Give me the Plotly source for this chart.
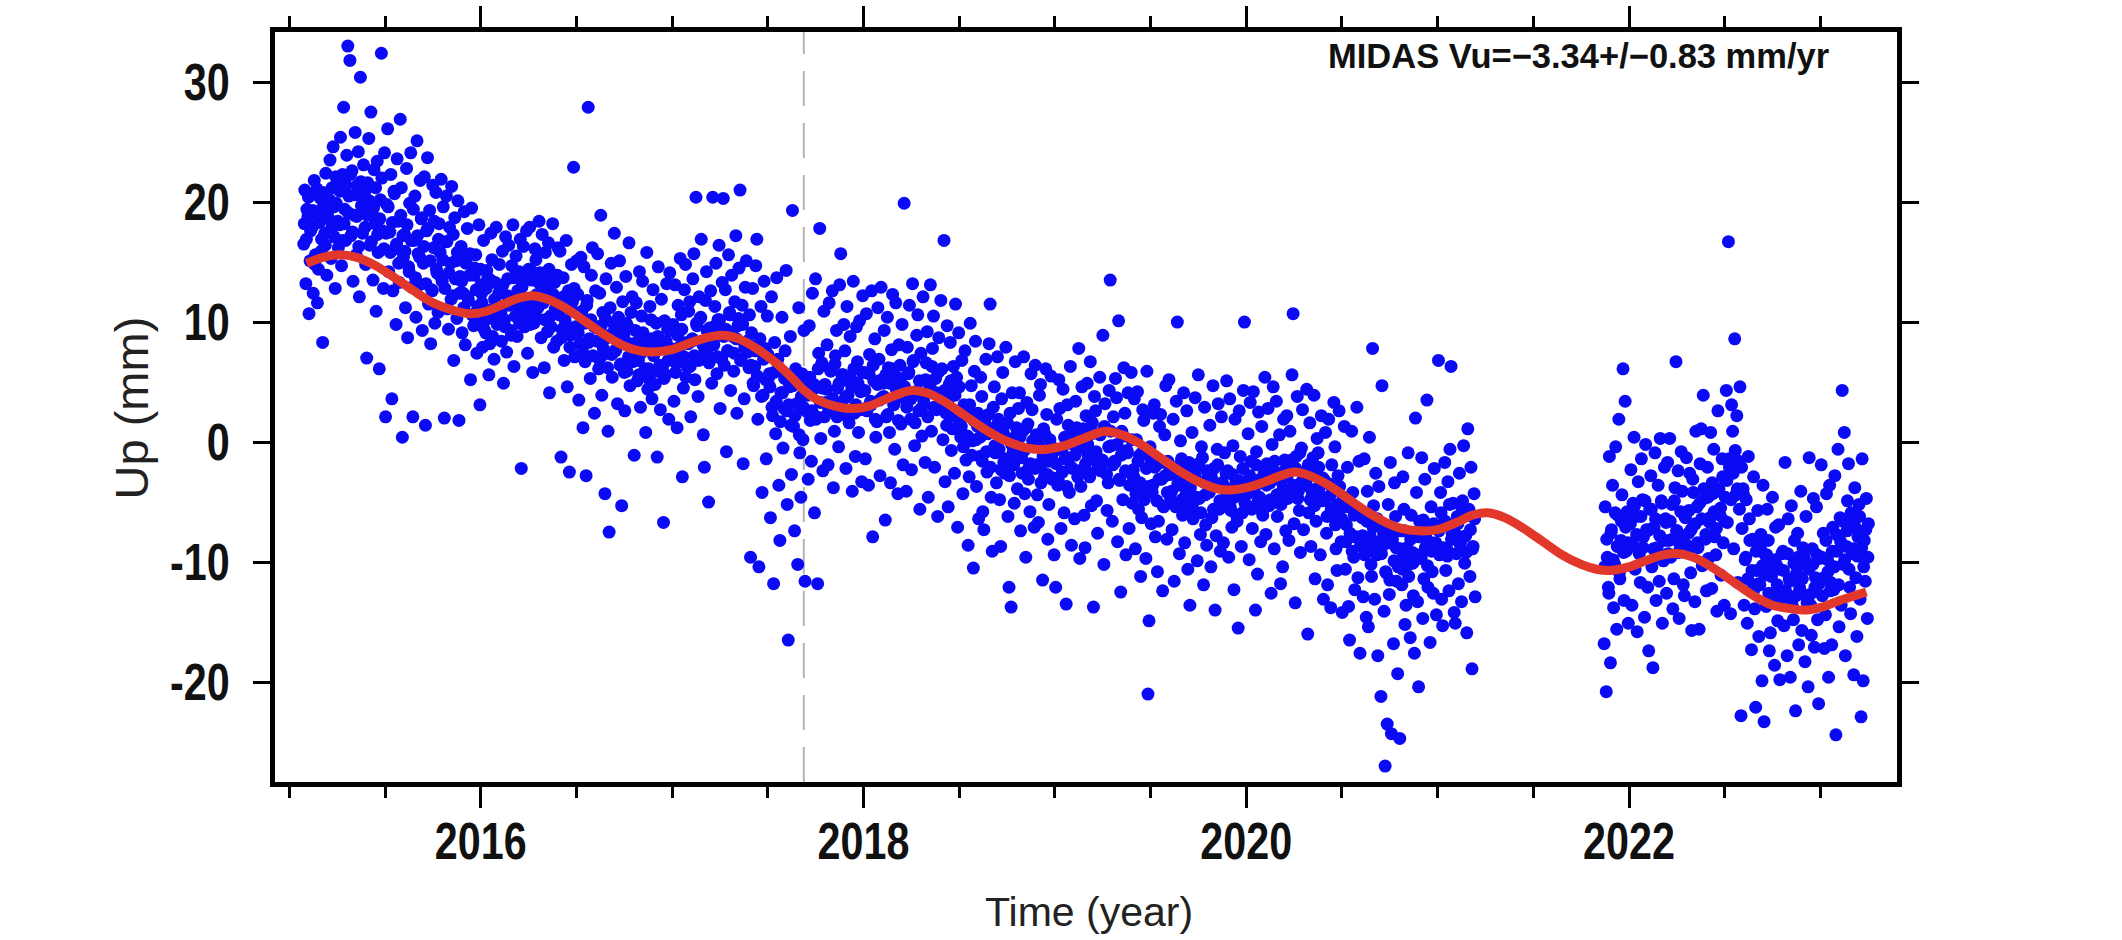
import plotly.graph_objects as go

# ---------------- data ----------------
# GNSS "Up" observations, grouped by year.
# Each tuple: (day of year, Up on that day, on the next day, two days later) in mm
obs_2015 = [(28,16.5,18.2,21.0),(32,13.2,16.9,19.4),(36,18.8,20.4,10.7),(40,15.1,17.6,20.6),(44,17.9,19.3,12.4),(48,21.8,14.8,15.6),(52,19.2,21.1,11.6),(56,14.4,18.7,18.3),(60,20.3,15.9,16.9),(64,8.3,20.8,19.8),(68,17.4,16.4,22.4),(72,13.9,19.1,20.1),
    (76,18.6,20.2,23.5),(80,15.3,17.8,21.2),(84,24.6,19.6,17.1),(88,12.8,22.1,19.9),(92,21.7,18.4,16.2),(96,18.1,20.9,25.4),(100,14.7,16.8,22.3),(104,27.9,18.2,19.4),(108,16.8,21.4,23.9),
    (112,33.0,19.1,20.5),(116,31.8,22.3,17.2),(120,22.6,17.5,13.4),(124,18.9,20.6,25.8),(128,15.6,18.8,21.4),(132,24.2,16.3,12.1),(136,30.4,21.7,19.7),(140,17.4,19.9,23.1),(144,20.8,17.9,14.8),
    (148,7.0,18.9,21.6),(152,25.3,20.1,16.4),(156,27.5,16.7,19.1),(160,13.5,19.5,22.7),(164,18.2,21.2,10.9),(168,23.4,17.3,15.8),(172,6.1,18.6,20.2),(176,32.4,22.0,17.6),(180,12.8,16.1,24.1),
    (184,2.1,17.4,19.8),(188,26.1,19.6,14.2),(192,17.5,15.8,22.3),(196,3.6,18.3,12.6),(200,20.9,20.7,16.1),(204,9.8,16.5,23.6),(208,18.4,14.9,13.3),(212,26.9,18.9,21.2),(216,0.4,17.2,15.4),
    (220,17.3,15.9,11.2),(224,22.8,18.1,8.7),(228,14.6,14.2,19.9),(232,24.1,16.8,12.9),(236,2.1,19.4,16.8),(240,20.5,13.7,10.4),(244,25.1,17.2,15.7),(248,13.1,15.4,21.8),(252,18.6,18.7,9.3),
    (256,14.9,16.3,22.1),(260,1.4,13.2,17.6),(264,23.7,17.8,11.5),(268,19.3,15.1,8.2),(272,12.7,12.6,21.4),(276,16.2,18.4,9.9),(280,20.8,14.4,14.1),(284,10.8,16.9,18.2),(288,15.8,13.8,21.9),
    (292,13.4,15.2,19.6),(296,2.0,12.8,16.7),(300,20.5,16.7,11.1),(304,9.4,14.1,17.9),(308,14.9,11.9,21.3),(312,12.2,17.3,6.8),(316,18.7,13.6,15.1),(320,10.3,15.8,20.1),(324,1.8,12.4,13.8),
    (328,16.3,13.4,9.1),(332,12.4,11.2,19.2),(336,8.1,14.9,15.2),(340,17.8,12.1,11.8),(344,13.9,15.7,5.2),(348,19.5,10.6,10.6),(352,9.7,13.9,14.5),(356,15.6,12.7,7.4),(360,11.3,9.8,18.1),(364,3.1,14.4,13.1)]

obs_2016 = [(2,12.4,11.6,7.9),(6,16.8,9.4,10.2),(10,9.1,12.8,14.3),(14,13.7,10.3,5.6),(18,8.2,13.5,17.4),(22,15.2,8.8,11.1),(26,6.9,11.9,13.3),(30,17.9,10.1,9.8),(34,10.6,12.4,14.8),
    (38,12.8,10.8,8.4),(42,15.9,13.1,4.9),(46,10.2,9.6,17.1),(50,7.5,12.2,13.6),(54,16.4,11.4,11.9),(58,9.3,8.9,14.7),(62,18.1,13.7,6.3),(66,12.1,10.5,15.5),(70,8.8,12.6,11.4),(74,14.2,9.9,16.9),
    (78,-2.2,12.9,13.1),(82,16.3,10.7,9.6),(86,11.8,13.8,17.6),(90,7.4,11.5,14.4),(94,17.9,9.8,10.7),(98,13.5,14.2,5.8),(102,9.9,12.1,16.1),(106,15.2,10.4,12.3),(110,11.2,13.3,18.4),
    (114,14.1,11.8,8.7),(118,17.3,13.6,11.6),(122,6.2,10.2,15.8),(126,12.9,12.7,9.2),(130,16.6,14.4,4.1),(134,10.5,9.6,13.8),(138,18.2,12.3,7.9),(142,13.3,11.1,11.1),(146,8.4,13.9,16.2),
    (150,11.5,10.6,15.9),(154,-1.25,8.7,9.4),(158,13.7,12.1,6.8),(162,10.1,9.5,16.8),(166,4.6,11.3,12.6),(170,-2.5,7.9,8.9),(174,14.8,10.9,11.7),(178,22.9,12.8,7.1),(182,9.6,9.2,15.1),
    (186,12.3,9.1,3.5),(190,8.2,10.8,15.4),(194,10.9,7.6,1.2),(198,14.6,9.9,6.7),(202,-2.8,11.4,11.8),(206,27.9,8.3,8.6),(210,5.3,10.2,13.9),(214,16.2,7.2,9.7),(218,2.4,9.6,12.6),
    (222,9.5,8.4,15.7),(226,6.1,6.9,12.4),(230,18.9,9.7,3.9),(234,10.8,7.8,7.3),(238,-4.3,10.3,13.6),(242,8.7,6.2,0.9),(246,-7.5,8.9,11.2),(250,14.9,7.3,5.4),(254,9.9,9.2,17.4),
    (258,7.6,7.7,12.9),(262,3.2,9.4,10.4),(266,15.1,6.4,6.5),(270,-5.3,8.6,11.7),(274,8.9,5.8,2.6),(278,13.8,9.9,5.9),(282,9.6,7.1,16.6),(286,4.7,8.2,10.8),(290,12.1,6.7,7.2),
    (294,-1.1,6.9,9.3),(298,11.6,8.3,5.1),(302,6.8,5.6,14.2),(306,2.9,7.4,10.5),(310,13.4,9.1,7.7),(314,8.4,6.1,0.8),(318,15.8,7.8,4.4),(322,6.1,5.2,11.3),(326,10.2,8.6,3.6),
    (330,12.7,7.2,7.4),(334,4.8,5.9,9.9),(338,-1.25,8.8,14.6),(342,8.1,6.4,2.7),(346,11.9,7.9,6.2),(350,-6.7,5.3,10.1),(354,5.6,8.4,13.2),(358,9.4,6.8,1.9),(362,14.1,9.3,7.8)]

obs_2017 = [(2,9.8,7.6,3.4),(6,13.1,5.8,6.6),(10,1.2,8.9,11.4),(14,7.9,6.7,15.3),(18,10.6,9.4,-2.9),(22,4.5,7.1,12.7),(26,14.8,5.4,8.3),(30,6.2,8.2,10.9),(34,11.7,6.3,2.1),
    (38,8.4,8.6,13.6),(42,15.7,7.2,5.2),(46,20.4,9.9,9.7),(50,3.8,6.8,12.1),(54,10.3,10.4,16.9),(58,6.9,8.1,0.6),(62,-2.1,7.5,11.8),(66,14.2,9.3,7.3),(70,-5.0,6.6,9.5),(74,12.6,8.8,4.9),
    (78,20.4,8.3,8.1),(82,11.3,9.7,14.9),(86,5.7,7.1,10.2),(90,16.4,10.2,2.8),(94,9.1,6.9,13.3),(98,20.3,8.8,6.4),(102,12.7,9.4,-0.8),(106,7.6,7.6,15.6),(110,10.8,10.6,4.3),
    (114,13.9,9.1,8.8),(118,5.9,7.4,11.7),(122,17.2,8.6,2.4),(126,9.7,10.3,14.5),(130,21.0,6.8,6.9),(134,11.4,9.8,-1.8),(138,3.6,7.9,12.9),(142,15.1,8.4,7.5),(146,8.2,6.2,10.6),
    (150,-9.6,6.4,9.1),(154,12.8,4.9,4.7),(158,6.3,7.6,14.7),(162,16.9,5.5,1.9),(166,-10.4,8.1,8.6),(170,11.3,3.8,-4.2),(174,3.9,6.9,13.4),(178,7.8,5.2,-1.4),(182,10.5,7.3,5.3),
    (186,5.7,4.6,-6.3),(190,12.1,2.9,2.2),(194,-11.8,5.8,8.3),(198,0.7,3.4,13.7),(202,6.9,6.2,-3.6),(206,-8.2,1.7,4.1),(210,10.4,4.1,-0.5),(214,2.8,5.3,7.6),(218,14.3,2.6,-5.2),
    (222,-16.5,3.1,4.6),(226,8.8,1.4,-2.7),(230,19.3,4.7,1.3),(234,-7.4,2.2,6.1),(238,3.2,5.3,-10.2),(242,11.2,0.6,-0.9),(246,-4.6,3.8,5.7),(250,0.2,2.9,9.3),(254,-11.6,4.4,2.6),
    (258,5.1,3.9,-3.1),(262,9.7,5.4,1.8),(266,-1.6,2.6,12.4),(270,4.4,4.8,-5.9),(274,13.6,1.9,2.1),(278,-11.8,6.1,7.4),(282,17.8,3.3,0.3),(286,6.6,4.5,-2.4),(290,10.9,2.1,4.8),
    (294,3.3,4.4,8.1),(298,-1.9,2.8,11.6),(302,6.1,5.9,2.7),(306,12.6,3.6,-3.8),(310,0.9,6.5,7.2),(314,9.3,2.1,4.5),(318,-0.4,4.9,13.1),(322,15.7,3.2,5.6),(326,2.3,5.6,9.8),
    (330,7.6,3.7,-2.2),(334,11.3,5.2,3.9),(338,1.6,2.4,8.8),(342,5.2,4.6,-4.1),(346,13.4,6.1,2.4),(350,-1.2,3.1,9.6),(354,6.7,4.9,0.8),(358,10.1,2.7,4.2),(362,-3.3,5.8,12.2)]

obs_2018 = [(2,5.8,4.3,-1.4),(6,10.7,2.6,2.9),(10,-3.6,5.7,7.3),(14,3.4,3.1,12.6),(18,-7.9,6.4,5.1),(22,8.6,1.9,0.4),(26,1.7,4.8,11.2),(30,6.9,3.5,-2.8),(34,12.9,5.2,3.7),
    (38,4.9,3.8,9.3),(42,-6.5,5.6,2.1),(46,10.4,2.3,6.2),(50,0.8,4.9,-3.4),(54,7.7,6.1,12.3),(58,3.1,3.2,-0.6),(62,11.6,4.4,5.4),(66,-4.3,1.8,8.1),(70,6.4,5.3,1.5),(74,9.8,3.9,-1.9),
    (78,19.9,4.6,3.6),(82,-4.1,2.9,7.9),(86,5.7,5.8,11.4),(90,1.9,3.6,-2.3),(94,13.2,6.7,6.8),(98,-0.3,1.6,4.2),(102,8.9,4.2,10.6),(106,2.6,5.1,-5.6),(110,7.4,2.8,0.5),
    (114,12.1,3.5,3.2),(118,-1.7,5.2,6.6),(122,9.2,2.1,-4.6),(126,4.4,4.7,13.1),(130,0.9,6.3,7.8),(134,10.5,2.9,-2.1),(138,5.3,4.1,2.7),(142,-6.2,5.8,8.7),(146,3.9,3.3,11.8),
    (150,6.1,2.8,0.2),(154,16.8,4.3,-3.3),(158,2.4,1.4,9.7),(162,-5.4,3.6,4.8),(166,8.3,5.1,-0.7),(170,1.1,2.2,6.3),(174,-2.6,3.9,11.5),(178,5.4,1.1,-7.1),(182,9.1,4.6,1.8),
    (186,0.4,1.3,6.8),(190,-4.3,-0.4,3.1),(194,7.6,2.6,-1.5),(198,2.2,0.5,-8.6),(202,-2.9,3.1,9.9),(206,4.7,-1.1,0.1),(210,-10.5,1.8,5.9),(214,8.4,0.2,-3.7),(218,1.3,2.4,-6.4),
    (222,-1.2,0.4,5.4),(226,3.8,-1.6,-5.8),(230,-7.3,1.7,1.6),(234,6.9,-0.8,-2.5),(238,0.7,2.3,8.2),(242,11.5,-2.1,-4.6),(246,-9.1,0.9,2.9),(250,4.6,-0.3,-0.9),(254,-3.4,1.4,7.1),
    (258,1.9,-0.6,-4.8),(262,-8.7,-2.3,3.6),(266,5.8,0.8,-1.7),(270,-2.6,-1.4,7.9),(274,0.3,1.6,-6.2),(278,-12.1,-2.8,2.4),(282,-13.75,-0.2,4.1),(286,-0.8,-1.9,-5.1),(290,6.7,0.5,1.2),
    (294,-3.9,-1.3,2.8),(298,4.1,0.4,-7.4),(302,-1.3,-2.6,0.9),(306,7.1,-0.7,-4.3),(310,-9.6,1.2,3.3),(314,1.5,-3.1,-2.1),(318,-5.8,-1.8,5.7),(322,2.7,0.1,-0.4),(326,-7.1,-2.2,6.4),
    (330,0.6,-1.9,-4.4),(334,-6.7,-0.3,3.9),(338,4.8,-3.4,-1.9),(342,-11.5,-1.2,1.1),(346,-2.8,0.6,6.1),(350,2.3,-2.7,-8.1),(354,-5.2,-1.6,0.2),(358,5.5,-0.4,-3.1),(362,-0.9,-3.0,-9.4)]

obs_2019 = [(2,-12.1,-1.8,1.9),(6,-3.6,-3.2,5.2),(10,2.8,-0.6,-7.2),(14,-0.6,-2.5,4.4),(18,-5.9,0.4,-1.4),(22,-13.5,-3.7,3.1),(26,1.4,-1.3,-4.2),(30,6.3,-2.1,-8.6),(34,-2.2,-0.2,0.8),
    (38,-6.4,-1.1,3.4),(42,1.2,0.3,-2.9),(46,7.8,-2.4,-9.7),(50,-3.7,-0.5,4.6),(54,0.5,1.1,-6.1),(58,-8.8,-1.8,2.2),(62,4.9,-0.2,-1.1),(66,-2.6,-2.9,6.7),(70,-5.3,0.7,1.6),(74,-13.75,-1.4,3.8),
    (78,2.6,-0.8,-4.9),(82,-7.6,-2.1,0.7),(86,5.4,0.6,-2.4),(90,-1.8,-1.5,8.9),(94,-10.2,1.3,3.2),(98,1.1,-2.7,-5.7),(102,-3.4,-0.4,4.3),(106,13.5,0.9,-0.3),(110,-6.6,-1.9,2.1),
    (114,-1.6,-1.7,5.3),(118,3.7,-0.2,-8.3),(122,10.1,-3.1,-3.2),(126,-12.5,-1.1,0.9),(130,-4.8,0.5,6.2),(134,2.4,-2.4,-9.4),(138,-0.7,-0.9,4.1),(142,-7.2,-3.6,-2.6),(146,5.8,0.2,-5.1),
    (150,-2.3,-2.9,3.6),(154,-8.9,-4.3,0.2),(158,4.2,-1.6,-5.6),(162,-1.1,-3.4,-11.2),(166,-6.3,-0.9,2.7),(170,1.8,-4.8,-3.8),(174,-9.7,-2.2,5.9),(178,-21.0,-3.7,-14.9),(182,-0.4,-1.4,-6.8),
    (186,-4.2,-3.6,2.4),(190,3.1,-2.1,-7.9),(194,-1.9,-4.9,-10.8),(198,-6.6,-3.1,1.3),(202,2.3,-1.7,-3.1),(206,-12.4,-5.3,-5.4),(210,0.6,-2.8,4.7),(214,-8.1,-4.2,-1.6),(218,5.2,-2.4,-4.5),
    (222,-2.7,-4.1,-7.3),(226,1.9,-2.6,-11.6),(230,-5.2,-5.4,3.4),(234,10.0,-3.5,-3.6),(238,-9.3,-1.9,0.1),(242,-1.4,-4.8,-6.1),(246,4.1,-3.2,-8.4),(250,-4.4,-5.7,2.6),(254,-10.6,-2.3,-1.7),
    (258,-13.6,-3.8,-3.2),(262,0.8,-5.2,-6.4),(266,-5.8,-2.7,3.7),(270,-2.1,-4.6,-9.9),(274,5.6,-1.8,-4.7),(278,-7.7,-5.9,-0.4),(282,-1.3,-3.3,-11.9),(286,2.9,-4.4,-6.9),(290,-8.6,-2.4,-2.6),
    (294,-3.9,-4.2,1.4),(298,-10.4,-2.9,-6.3),(302,4.7,-5.6,-2.2),(306,-14.0,-3.7,-7.8),(310,-0.6,-1.9,3.2),(314,-5.6,-4.9,-9.1),(318,2.1,-3.4,-3.4),(322,-8.4,-5.3,-0.9),(326,-4.7,-2.6,5.1),
    (330,-2.4,-3.9,-9.6),(334,3.6,-5.4,-5.7),(338,-7.1,-2.7,-0.3),(342,-12.3,-4.6,1.9),(346,-3.3,-6.1,-6.6),(350,-15.5,-3.2,2.6),(354,-1.2,-4.4,-8.7),(358,-5.9,-2.2,4.3),(362,10.0,-5.1,-3.7)]

obs_2020 = [(2,-5.3,-4.3,0.7),(6,-9.8,-2.8,3.3),(10,-1.6,-5.6,-7.2),(14,4.2,-3.4,-3.9),(18,-14.0,-1.9,-0.8),(22,-11.0,-4.9,2.5),(26,-4.6,-3.1,-8.3),(30,1.3,-5.8,-6.1),(34,-2.9,-2.5,5.4),
    (38,-7.7,-3.6,-1.8),(42,2.8,-2.1,-5.3),(46,-3.4,-4.8,-12.6),(50,-0.2,-3.1,4.6),(54,-8.9,-1.6,-2.5),(58,3.4,-4.4,-6.2),(62,-5.1,-2.7,0.6),(66,-11.8,-5.2,-3.3),(70,-10.4,-3.9,1.9),(74,-1.5,-2.3,-7.4),
    (78,2.2,-2.8,-4.7),(82,-8.2,-4.2,0.9),(86,-2.3,-1.5,5.6),(90,10.7,-3.6,-6.8),(94,-13.4,-2.2,-1.2),(98,3.8,-4.7,-4.1),(102,-5.7,-0.9,-9.2),(106,-0.5,-3.3,2.7),(110,-7.3,-2.6,-3.6),
    (114,-2.6,-3.4,4.4),(118,-16.0,-1.9,-5.9),(122,1.6,-4.8,-8.7),(126,-4.1,-2.7,-1.3),(130,3.9,-5.3,-11.4),(134,-6.6,-3.9,0.3),(138,-0.9,-2.1,-3.8),(142,-9.4,-4.5,2.2),(146,-4.9,-3.0,-13.1),
    (150,-3.2,-4.8,0.8),(154,-7.6,-6.2,-11.9),(158,1.9,-3.5,-4.5),(162,-13.8,-5.6,-1.9),(166,-6.1,-4.1,3.3),(170,-0.4,-6.9,-8.9),(174,-10.7,-5.2,-2.8),(178,2.6,-3.7,-5.6),(182,-8.3,-6.4,-14.2),
    (186,-4.6,-6.7,1.3),(190,-10.6,-8.3,-6.9),(194,-2.1,-5.4,-13.7),(198,-16.5,-7.6,-7.9),(202,0.9,-9.1,-4.2),(206,-9.6,-6.1,-12.3),(210,-5.8,-7.9,2.9),(214,-11.3,-5.8,-1.6),(218,-17.6,-8.6,-8.4),
    (222,-6.3,-7.8,-12.9),(226,-1.4,-9.4,-9.2),(230,-14.6,-6.6,-4.1),(234,-15.4,-8.7,0.4),(238,-7.9,-10.2,-11.2),(242,7.8,-7.1,-5.3),(246,-13.1,-9.1,-2.6),(250,-9.4,-6.4,-17.8),(254,-3.7,-8.3,-6.7),
    (258,-21.2,-9.3,4.7),(262,-8.6,-7.6,-14.1),(266,-27.0,-10.8,-10.9),(270,-23.5,-8.4,-5.2),(274,-12.7,-11.5,-1.7),(278,-24.3,-7.2,-8.1),(282,-16.8,-9.9,-3.4),(286,-6.2,-8.8,-11.6),(290,-19.3,-10.4,-9.9),
    (294,-24.7,-8.9,-7.4),(298,-11.9,-10.6,-2.9),(302,-5.6,-7.4,-15.2),(306,-13.6,-9.7,-8.8),(310,-0.9,-11.2,-10.2),(314,-16.3,-8.1,-6.1),(318,-9.2,-10.1,-12.8),(322,-17.6,-7.7,2.0),(326,-4.2,-9.4,-13.3),
    (330,-20.4,-7.9,-6.6),(334,-9.7,-9.6,-1.3),(338,-14.7,-6.5,-11.4),(342,-3.1,-8.8,-7.6),(346,3.5,-10.3,-12.1),(350,-8.3,-7.2,-16.7),(354,-5.4,-9.1,-10.8),(358,-12.6,-6.8,-2.2),(362,-7.1,-8.4,-14.4)]

obs_2021 = [(2,6.8,-7.4,-9.4),(6,-4.2,-5.9,-13.1),(10,-15.3,-8.8,-6.8),(14,-1.7,-6.6,-10.7),(18,-8.9,-9.5,-3.3),(22,-12.4,-5.2,-0.6),(26,6.3,-8.1,-7.6),(30,-5.1,-6.9,-14.2),(34,-15.1,-7.7,-9.3),
    (38,-6.2,-6.8,-11.8),(42,-2.6,-8.5,-8.4),(46,-13.3,-5.5,-4.9),(50,-0.3,-7.9,-10.1),(54,-7.8,-9.2,-15.9),(58,1.1,-6.1,-5.6),(62,-11.2,-7.3,-2.1),(66,-18.9,-8.9,-8.7),(70,-4.3,-6.4,-12.9),
    (318,-16.8,-10.4,-5.4),(322,-20.8,-8.1,-9.6),(326,-12.1,-12.6,-1.2),
    (330,-18.4,-7.6,-7.3),(334,-3.6,-9.8,-13.8),(338,-10.2,-5.9,-0.4),(342,-15.6,-8.7,-6.1),(346,1.9,-10.9,-11.4),(350,-8.2,-6.6,-4.4),(354,6.1,-9.2,-13.2),(358,3.4,-7.1,-9.1),(362,-5.8,-8.4,-15.1)]

obs_2022 = [(2,-8.7,-6.8,-2.3),(6,-13.6,-8.4,-5.1),(10,0.4,-5.3,-10.6),(14,-6.2,-7.7,-15.8),(18,-3.3,-9.1,-9.3),(22,-11.7,-6.2,-1.4),(26,-4.8,-8.8,-7.9),(30,-14.6,-4.9,-0.2),(34,-7.3,-7.4,-12.1),
    (38,-17.4,-7.3,-5.6),(42,-2.8,-5.6,-10.4),(46,-18.8,-8.9,-7.1),(50,-0.9,-6.4,-13.2),(54,-8.8,-9.6,-3.6),(58,-11.6,-7.8,0.3),(62,-4.9,-5.1,-15.1),(66,-9.9,-8.2,-2.1),(70,-6.4,-6.7,-12.6),(74,-1.7,-9.3,-8.2),
    (78,0.3,-6.6,-9.6),(82,-5.2,-8.1,-13.9),(86,-11.4,-4.9,-3.8),(90,6.7,-7.4,-7.4),(94,-2.4,-9.2,-14.7),(98,-8.6,-5.8,-0.8),(102,-4.1,-7.9,-11.9),(106,-12.8,-6.2,-6.3),(110,-1.3,-8.6,-9.1),
    (114,-7.6,-5.7,-2.6),(118,-10.9,-7.3,-15.7),(122,-3.1,-4.2,-6.9),(126,-13.3,-6.8,0.9),(130,-5.4,-8.4,-8.8),(134,-15.6,-5.1,-1.8),(138,1.1,-6.4,-10.3),(142,3.9,-3.9,-4.7),(146,-8.1,-7.7,-12.4),
    (150,-2.1,-4.6,-9.7),(154,-6.7,-6.3,0.8),(158,-12.2,-3.4,-4.3),(162,-0.6,-5.8,-7.9),(166,-9.4,-7.2,-14.1),(170,2.6,-4.1,-3.9),(174,-6.1,-5.5,-11.1),(178,-1.4,-2.9,-8.4),(182,-13.6,-6.6,-4.6),
    (186,4.3,-3.2,-6.7),(190,16.7,-1.4,-2.1),(194,-14.3,-4.8,3.1),(198,0.9,-2.6,-8.9),(202,8.6,-0.7,-4.4),(206,2.2,-3.9,-11.7),(210,-1.6,-5.6,4.6),(214,-22.8,-2.1,-7.2),(218,-3.9,-4.4,-13.6),
    (222,-9.8,-9.6,-4.8),(226,-15.1,-11.4,-1.2),(230,-6.4,-8.2,-12.4),(234,-17.3,-10.7,-8.1),(238,-2.9,-12.3,-13.9),(242,-22.1,-9.1,-10.7),(246,-5.7,-11.8,-16.2),(250,-11.9,-8.7,-7.7),(254,-19.9,-10.3,-3.6),
    (258,-23.3,-11.1,-9.4),(262,-13.7,-9.4,-5.6),(266,-8.2,-12.6,-17.4),(270,-15.9,-10.3,-11.2),(274,-4.6,-13.4,-12.8),(278,-18.6,-9.8,-7.1),(282,-10.3,-11.9,-14.9),(286,-6.9,-10.6,-19.8),(290,-13.1,-12.8,-9.3),
    (294,-9.1,-10.7,-15.3),(298,-1.7,-12.4,-12.6),(302,-17.8,-9.3,-6.4),(306,-11.4,-11.6,-19.6),(310,-5.3,-13.2,-13.7),(314,-14.8,-10.1,-8.2),(318,-22.4,-12.8,-10.9),(322,-7.6,-9.6,-16.9),(326,-12.2,-11.3,-4.1),
    (330,-15.7,-11.4,-8.8),(334,-10.1,-9.7,-18.3),(338,-6.2,-12.9,-13.4),(342,-20.4,-10.6,-1.3),(346,-12.7,-13.6,-16.1),(350,-8.9,-10.2,-4.7),(354,-17.1,-12.1,-11.3),(358,-5.4,-9.4,-14.8),(362,-21.8,-11.8,-9.7)]

obs_2023 = [(2,-1.9,-9.6,-12.8),(6,-7.6,-11.3,-17.2),(10,-14.4,-8.2,-4.3),(14,-9.8,-10.8,-19.6),(18,-3.6,-12.4,-11.7),(22,-16.9,-9.1,-7.1),(26,-12.3,-10.4,-2.8),(30,-24.4,-7.7,-9.1),(34,-0.6,-11.9,-15.4),
    (38,-6.3,-8.3,-13.6),(42,4.3,-6.6,-10.2),(46,0.8,-9.8,-17.8),(50,-8.7,-7.4,-4.9),(54,-1.8,-10.6,-12.1),(58,-14.3,-5.9,-6.6),(62,-9.3,-8.9,-19.4),(66,-3.8,-7.1,-11.3),(70,-16.2,-9.5,-7.9),(74,-5.2,-6.2,-13.1),
    (78,-22.9,-8.8,-1.4),(82,-19.9,-10.4,-8.2),(86,-11.6,-7.3,-4.7),(90,-14.7,-9.6,-6.8)]

# Model curve (trend + seasonal)
fit_years = [2015.09,2015.18,2015.26,2015.35,2015.45,2015.55,2015.65,2015.75,2015.85,2015.94,
    2016.03,2016.12,2016.20,2016.27,2016.35,2016.45,2016.55,2016.65,2016.75,2016.83,2016.90,
    2017.00,2017.10,2017.18,2017.26,2017.35,2017.45,2017.55,2017.63,2017.69,2017.75,2017.85,2017.94,
    2018.03,2018.12,2018.20,2018.25,2018.33,2018.43,2018.53,2018.63,2018.73,2018.83,2018.90,2018.96,
    2019.05,2019.15,2019.26,2019.35,2019.45,2019.55,2019.65,2019.75,2019.85,2019.91,
    2020.00,2020.10,2020.18,2020.25,2020.33,2020.43,2020.53,2020.63,2020.73,2020.81,2020.90,
    2021.00,2021.10,2021.18,2021.26,2021.35,2021.45,2021.55,2021.65,2021.75,2021.83,2021.90,
    2022.00,2022.10,2022.18,2022.26,2022.35,2022.45,2022.55,2022.65,2022.75,2022.85,2022.93,
    2023.02,2023.10,2023.18,2023.24]
fit_up = [14.9,15.4,15.6,15.4,14.7,13.7,12.6,11.6,11.0,10.7,
    10.9,11.5,12.0,12.2,11.9,11.1,10.0,8.9,8.0,7.6,7.5,
    7.7,8.3,8.7,8.9,8.6,7.7,6.5,5.3,4.3,3.6,3.0,2.8,
    3.0,3.6,4.1,4.3,4.1,3.3,2.2,1.1,0.2,-0.4,-0.6,-0.6,
    -0.3,0.3,0.9,0.6,-0.2,-1.3,-2.4,-3.3,-3.9,-4.0,
    -3.8,-3.3,-2.8,-2.5,-2.8,-3.6,-4.7,-5.8,-6.7,-7.2,-7.4,
    -7.3,-6.7,-6.1,-5.9,-6.3,-7.2,-8.3,-9.4,-10.2,-10.6,-10.7,
    -10.4,-9.8,-9.4,-9.3,-9.7,-10.6,-11.7,-12.8,-13.6,-13.9,-14.0,
    -13.7,-13.2,-12.8,-12.5]

antenna_change_year = 2017.688
x_tick_vals = [2016, 2018, 2020, 2022]
x_tick_text = ["2016", "2018", "2020", "2022"]
y_tick_vals = [-20, -10, 0, 10, 20, 30]
y_tick_text = ["-20", "-10", "0", "10", "20", "30"]
annotation_text = "MIDAS Vu=\u22123.34+/\u22120.83 mm/yr"

# ---------------- build ----------------
obs_by_year = {2015: obs_2015, 2016: obs_2016, 2017: obs_2017, 2018: obs_2018,
               2019: obs_2019, 2020: obs_2020, 2021: obs_2021, 2022: obs_2022, 2023: obs_2023}
t_all, u_all = [], []
for yr, obs in obs_by_year.items():
    ndays = 366 if yr % 4 == 0 else 365
    for rec in obs:
        d = rec[0]
        for k, val in enumerate(rec[1:]):
            t_all.append(yr + (d + k - 0.5) / ndays)
            u_all.append(val)

BLUE = "#0a0af5"
RED = "#e2382c"
TICK_FONT = dict(family="Liberation Sans, Arial", size=51, color="#111111", weight="bold")

fig = go.Figure()
fig.add_trace(go.Scatter(x=t_all, y=u_all, mode="markers",
                         marker=dict(color=BLUE, size=13, line=dict(width=0)),
                         hoverinfo="skip", showlegend=False))
fig.add_trace(go.Scatter(x=fit_years, y=fit_up, mode="lines",
                         line=dict(color=RED, width=9, shape="spline", smoothing=0.8),
                         hoverinfo="skip", showlegend=False))

fig.add_shape(type="line", xref="x", yref="paper", x0=antenna_change_year, x1=antenna_change_year,
              y0=0, y1=1, line=dict(color="#b4b4b4", width=2, dash="35px,17px"), layer="below")

fig.add_annotation(text=annotation_text, xref="paper", yref="paper", x=0.9593, y=0.968,
                   xanchor="right", yanchor="middle", showarrow=False,
                   font=dict(family="Liberation Sans, Arial", size=34.5, color="#111111", weight="bold"))
fig.add_annotation(text="Up (mm)", xref="paper", yref="paper", x=-0.0882, y=0.4993,
                   xanchor="center", yanchor="middle", textangle=-90, showarrow=False,
                   font=dict(family="Liberation Sans, Arial", size=47, color="#222222"))
fig.add_annotation(text="Time (year)", xref="paper", yref="paper", x=0.5019, y=-0.1727,
                   xanchor="center", yanchor="middle", showarrow=False,
                   font=dict(family="Liberation Sans, Arial", size=41, color="#222222"))

fig.update_layout(
    width=2122, height=940,
    margin=dict(l=275, r=225, t=32, b=158, autoexpand=False),
    paper_bgcolor="white", plot_bgcolor="white",
    showlegend=False,
)
fig.update_xaxes(range=[2014.925, 2023.40], showgrid=False, zeroline=False,
                 showline=True, linewidth=5, linecolor="black", mirror="ticks",
                 ticks="outside", ticklen=21, tickwidth=3, tickcolor="black",
                 tickvals=x_tick_vals, ticktext=x_tick_text, tickfont=TICK_FONT,
                 ticklabelstandoff=-10,
                 minor=dict(ticks="outside", dtick=0.5, tick0=2015, ticklen=11,
                            tickwidth=2.5, tickcolor="black", showgrid=False))
fig.update_yaxes(range=[-28.33, 34.17], showgrid=False, zeroline=False,
                 showline=True, linewidth=5, linecolor="black", mirror="ticks",
                 ticks="outside", ticklen=17, tickwidth=3, tickcolor="black",
                 tickvals=y_tick_vals, ticktext=y_tick_text, tickfont=TICK_FONT,
                 ticklabelstandoff=13)

# condense the bold tick labels horizontally (the original uses a narrow bold face),
# keeping each label anchored where Plotly placed it
post_js = """
document.body.style.margin='0';document.body.style.overflow='hidden';
document.querySelectorAll('.xtick text, .ytick text').forEach(function(t){
  var b0 = t.getBBox();
  var w = t.getComputedTextLength();
  t.setAttribute('textLength', (w*0.81).toFixed(1));
  t.setAttribute('lengthAdjust', 'spacingAndGlyphs');
  var b1 = t.getBBox();
  var anchor = t.getAttribute('text-anchor') || 'start';
  var dx = 0;
  if (anchor === 'end') { dx = (b0.x + b0.width) - (b1.x + b1.width); }
  else if (anchor === 'middle') { dx = (b0.x + b0.width/2) - (b1.x + b1.width/2); }
  t.setAttribute('x', (parseFloat(t.getAttribute('x') || 0) + dx).toFixed(1));
});
"""
fig.write_html("out.html", post_script=post_js, config={"displayModeBar": False})
